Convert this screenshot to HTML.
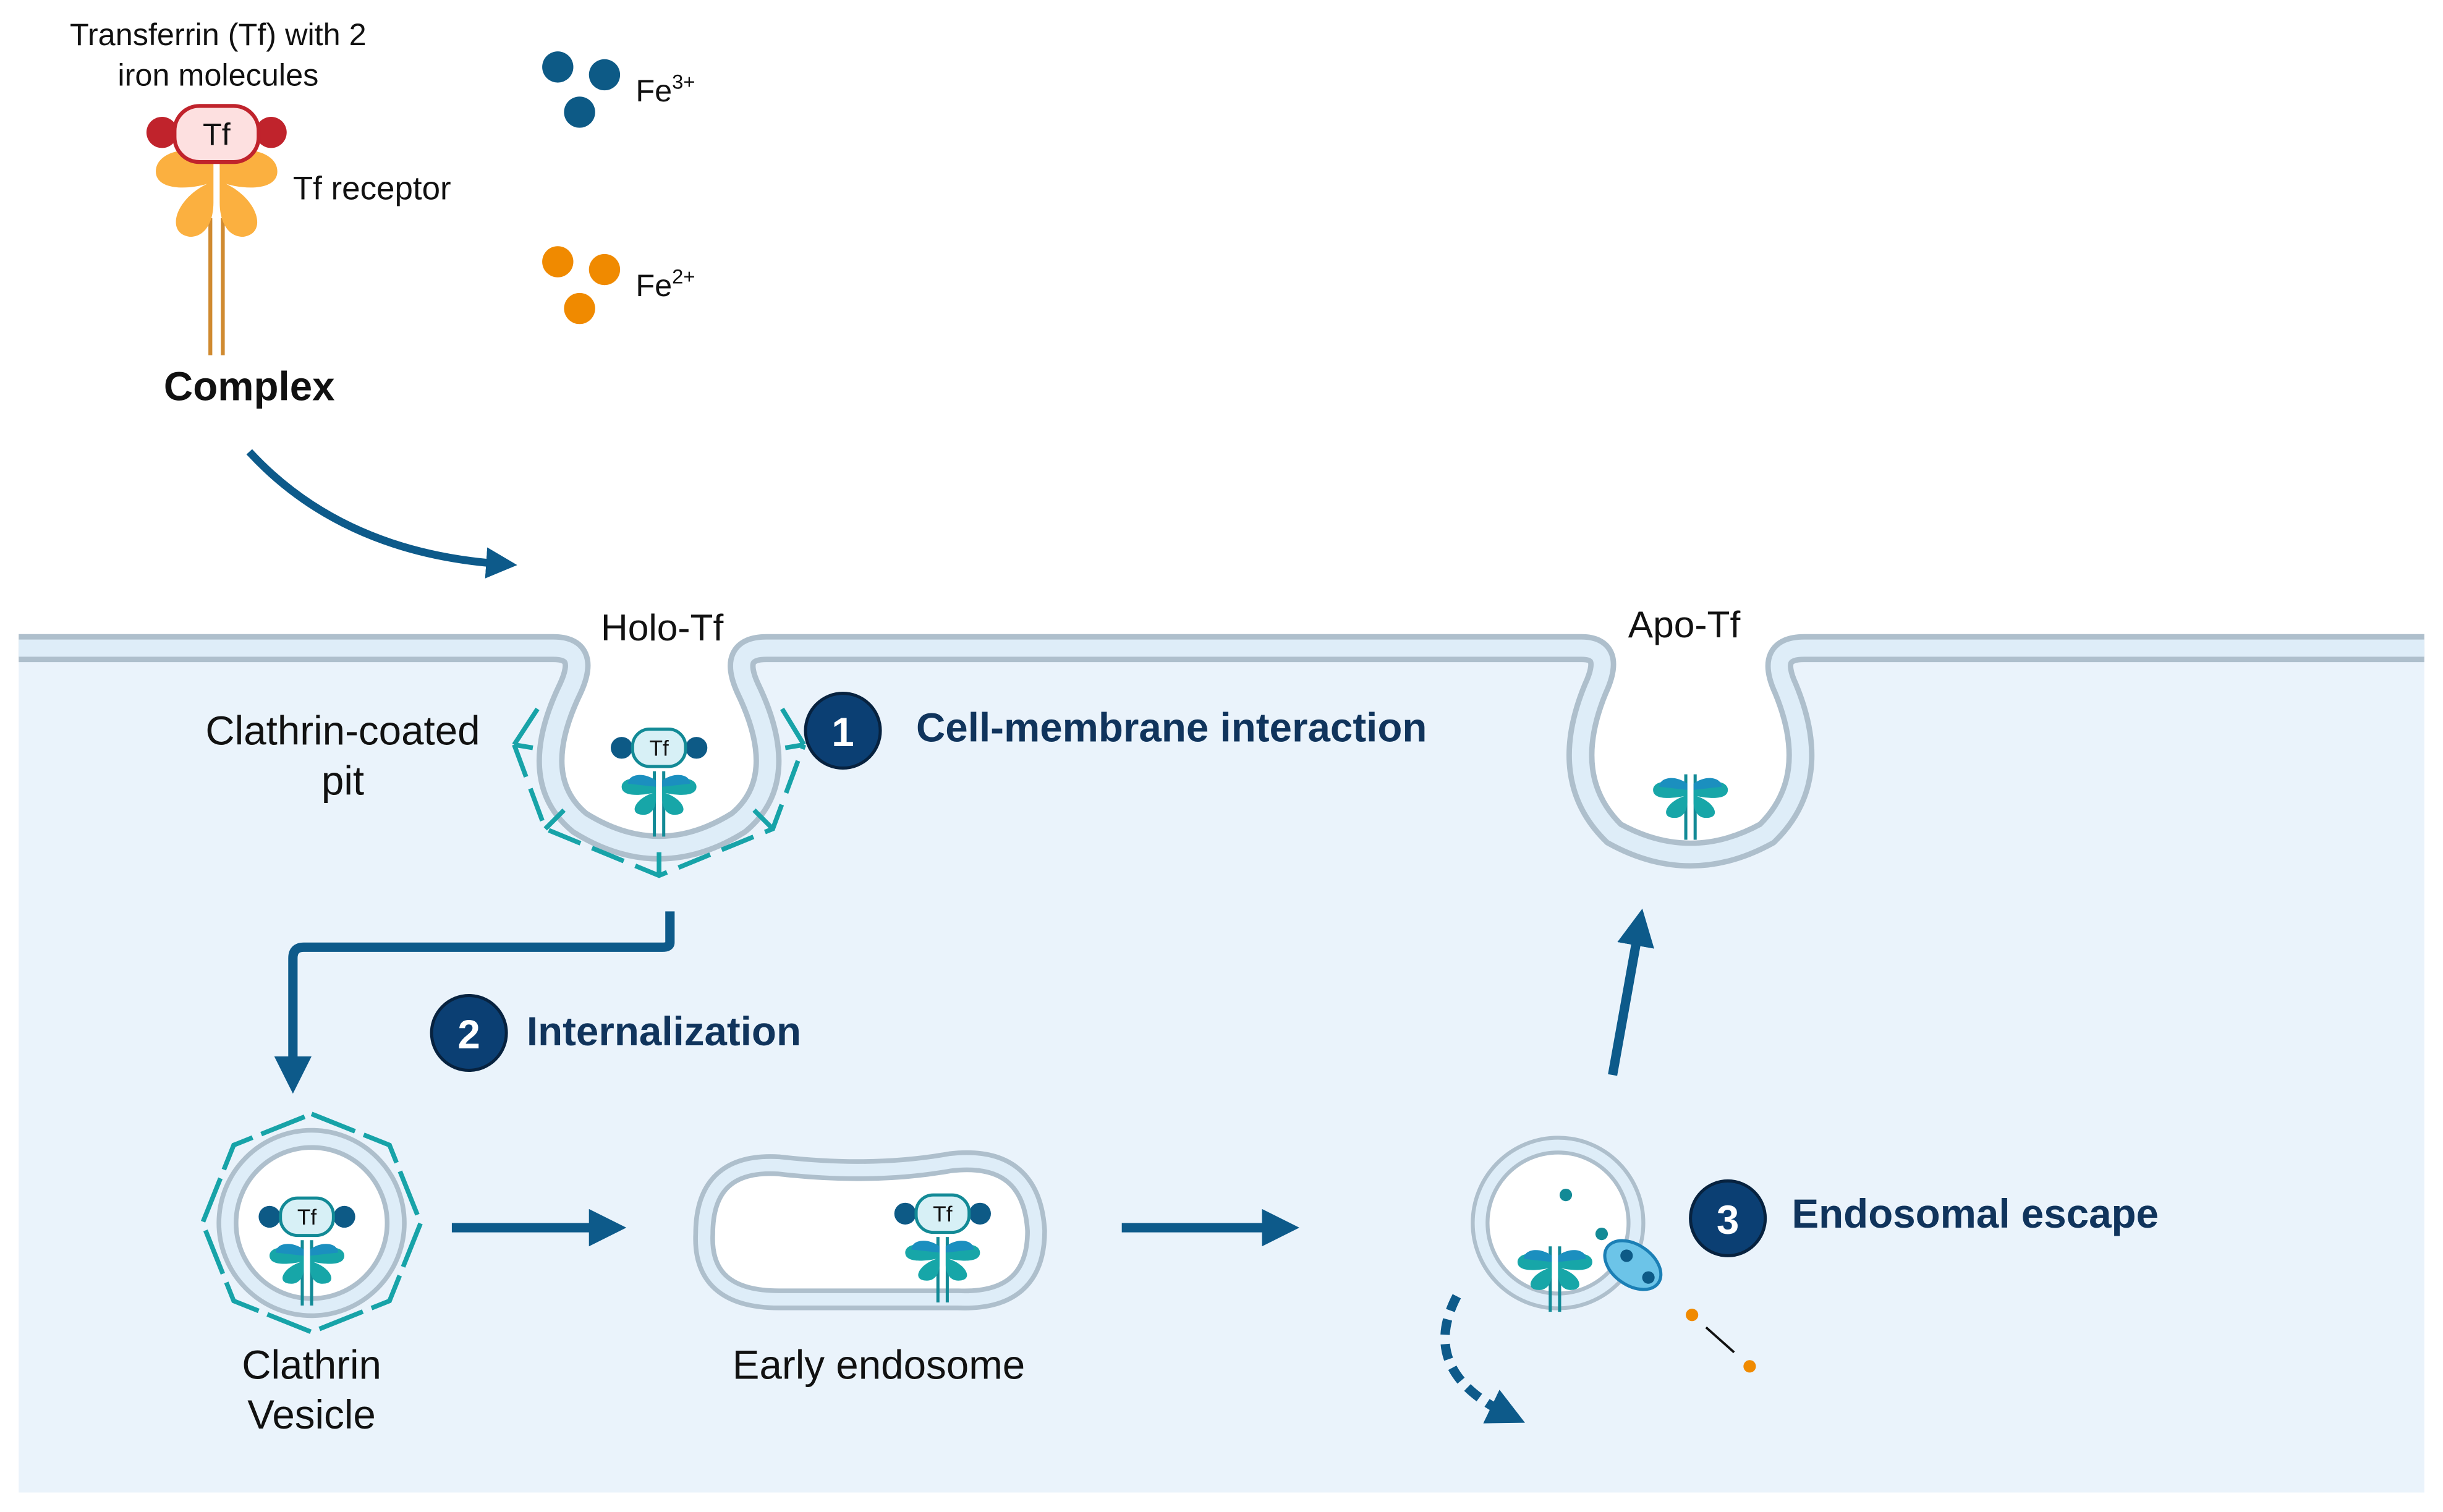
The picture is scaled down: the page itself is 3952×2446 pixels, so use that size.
<!DOCTYPE html>
<html><head><meta charset="utf-8"><style>
html,body{margin:0;padding:0;background:#fff;}
svg{display:block;}
text{font-family:"Liberation Sans",sans-serif;}
</style></head><body>
<svg width="3952" height="2446" viewBox="0 0 1568 970.5" preserveAspectRatio="none" xmlns="http://www.w3.org/2000/svg">
<defs>
<marker id="ah" viewBox="0 0 10 10" refX="5" refY="5" markerWidth="4" markerHeight="4" orient="auto"><path d="M0,0 L10,5 L0,10 z" fill="#0d5a8a"/></marker>
<g id="rec">
 <line x1="-3" y1="0" x2="-3" y2="42" stroke="#128a96" stroke-width="2"/>
 <line x1="3" y1="0" x2="3" y2="42" stroke="#128a96" stroke-width="2"/>
 <path d="M-2,10 C-12,2 -24,4 -24,10 C-24,16 -14,16 -4,14 C-16,18 -20,28 -10,28 C-4,28 -2,22 -2,18 z" fill="#17a6a8"/>
 <path d="M2,10 C12,2 24,4 24,10 C24,16 14,16 4,14 C16,18 20,28 10,28 C4,28 2,22 2,18 z" fill="#17a6a8"/>
 <path d="M-2,6 C-10,0 -20,2 -20,8 L-2,10 z M2,6 C10,0 20,2 20,8 L2,10z" fill="#1b8fbf"/>
</g>
<g id="tf">
 <circle cx="-24" cy="0" r="7" fill="#0d5a86"/>
 <circle cx="24" cy="0" r="7" fill="#0d5a86"/>
 <rect x="-17" y="-12" width="34" height="24" rx="11" fill="#d7f0f6" stroke="#128a96" stroke-width="2"/>
 <text x="0" y="5" font-size="14" text-anchor="middle" fill="#111">Tf</text>
</g>
</defs>
<rect x="0" y="0" width="1568" height="970.5" fill="#fff"/>
<rect x="12" y="416" width="1544" height="542" fill="#eaf3fb"/>
<!-- membrane -->
<path d="M12,416 H355 Q378,416 366,442 Q338,500 372,528 Q423,560 474,528 Q508,500 480,442 Q468,416 492,416 H1015 Q1036,416 1024,442 Q1000,500 1036,535 Q1085,562 1134,535 Q1170,500 1146,442 Q1134,416 1158,416 H1556" fill="#fff" stroke="#aebfcc" stroke-width="18"/>
<path d="M12,416 H355 Q378,416 366,442 Q338,500 372,528 Q423,560 474,528 Q508,500 480,442 Q468,416 492,416 H1015 Q1036,416 1024,442 Q1000,500 1036,535 Q1085,562 1134,535 Q1170,500 1146,442 Q1134,416 1158,416 H1556" fill="none" stroke="#deedf8" stroke-width="11"/>
<!-- clathrin pit coat -->
<polyline points="330,478 350,532 423,562 496,532 516,478" fill="none" stroke="#17a3a8" stroke-width="3" stroke-dasharray="22,8"/>
<path d="M330,478 L345,455 M330,478 L342,480 M350,532 L362,520 M423,562 L423,547 M496,532 L484,520 M516,478 L504,480 M516,478 L502,455" stroke="#17a3a8" stroke-width="3"/>
<use href="#rec" x="423" y="495"/><use href="#tf" x="423" y="480"/>
<use href="#rec" x="1085" y="497"/>
<!-- labels -->
<text x="425" y="411" font-size="24" text-anchor="middle" fill="#111">Holo-Tf</text>
<text x="1081" y="409" font-size="24" text-anchor="middle" fill="#111">Apo-Tf</text>
<text x="220" y="478" font-size="26" text-anchor="middle" fill="#111">Clathrin-coated</text>
<text x="220" y="510" font-size="26" text-anchor="middle" fill="#111">pit</text>
<circle cx="541" cy="469" r="24" fill="#0b3f73" stroke="#07223f" stroke-width="2"/><text x="541" y="479" font-size="26" font-weight="bold" fill="#fff" text-anchor="middle">1</text>
<text x="588" y="476" font-size="26" font-weight="bold" fill="#10345c">Cell-membrane interaction</text>
<circle cx="301" cy="663" r="24" fill="#0b3f73" stroke="#07223f" stroke-width="2"/><text x="301" y="673" font-size="26" font-weight="bold" fill="#fff" text-anchor="middle">2</text>
<text x="338" y="671" font-size="26" font-weight="bold" fill="#10345c">Internalization</text>
<circle cx="1109" cy="782" r="24" fill="#0b3f73" stroke="#07223f" stroke-width="2"/><text x="1109" y="792" font-size="26" font-weight="bold" fill="#fff" text-anchor="middle">3</text>
<text x="1150" y="788" font-size="26" font-weight="bold" fill="#10345c">Endosomal escape</text>
<!-- arrows -->
<path d="M160,290 Q220,355 322,362" fill="none" stroke="#0d5a8a" stroke-width="5" marker-end="url(#ah)"/>
<path d="M430,585 V605 Q430,608 425,608 H195 Q188,608 188,615 V690" fill="none" stroke="#0d5a8a" stroke-width="6" marker-end="url(#ah)"/>
<line x1="290" y1="788" x2="390" y2="788" stroke="#0d5a8a" stroke-width="6" marker-end="url(#ah)"/>
<line x1="720" y1="788" x2="822" y2="788" stroke="#0d5a8a" stroke-width="6" marker-end="url(#ah)"/>
<line x1="1035" y1="690" x2="1052" y2="595" stroke="#0d5a8a" stroke-width="6" marker-end="url(#ah)"/>
<path d="M935,832 Q910,880 968,908" fill="none" stroke="#0d5a8a" stroke-width="6" stroke-dasharray="10,6" marker-end="url(#ah)"/>
<!-- clathrin vesicle -->
<polygon points="200,715 250,735 270,785 250,835 200,855 150,835 130,785 150,735" fill="none" stroke="#17a3a8" stroke-width="3" stroke-dasharray="30,6"/>
<circle cx="200" cy="785" r="54" fill="#fff" stroke="#aebfcc" stroke-width="14"/>
<circle cx="200" cy="785" r="54" fill="none" stroke="#deedf8" stroke-width="8"/>
<use href="#rec" x="197" y="796"/><use href="#tf" x="197" y="781"/>
<text x="200" y="885" font-size="26" text-anchor="middle" fill="#111">Clathrin</text>
<text x="200" y="917" font-size="26" text-anchor="middle" fill="#111">Vesicle</text>
<!-- early endosome -->
<path d="M500,748 Q560,755 610,746 Q662,740 665,790 Q665,836 615,834 L500,834 Q450,834 452,792 Q452,745 500,748 Z" fill="#fff" stroke="#aebfcc" stroke-width="14"/>
<path d="M500,748 Q560,755 610,746 Q662,740 665,790 Q665,836 615,834 L500,834 Q450,834 452,792 Q452,745 500,748 Z" fill="none" stroke="#deedf8" stroke-width="8"/>
<use href="#rec" x="605" y="794"/><use href="#tf" x="605" y="779"/>
<text x="564" y="885" font-size="26" text-anchor="middle" fill="#111">Early endosome</text>
<!-- escape endosome -->
<circle cx="1000" cy="785" r="50" fill="#fff" stroke="#aebfcc" stroke-width="12"/>
<circle cx="1000" cy="785" r="50" fill="none" stroke="#deedf8" stroke-width="7"/>
<use href="#rec" x="998" y="800"/>
<circle cx="1005" cy="767" r="4" fill="#128a96"/><circle cx="1028" cy="792" r="4" fill="#128a96"/>
<ellipse cx="1048" cy="812" rx="20" ry="13" transform="rotate(35 1048 812)" fill="#6cc4e8" stroke="#1b7fb5" stroke-width="2"/>
<circle cx="1044" cy="806" r="4" fill="#0d5a86"/><circle cx="1058" cy="820" r="4" fill="#0d5a86"/>
<circle cx="1086" cy="844" r="4" fill="#f08a00"/><circle cx="1123" cy="877" r="4" fill="#f08a00"/>
<line x1="1095" y1="852" x2="1113" y2="868" stroke="#111" stroke-width="1.5"/>
<!-- top legend -->
<text x="140" y="29" font-size="20" text-anchor="middle" fill="#111">Transferrin (Tf) with 2</text>
<text x="140" y="55" font-size="20" text-anchor="middle" fill="#111">iron molecules</text>
<line x1="135" y1="140" x2="135" y2="228" stroke="#d08a30" stroke-width="2.5"/>
<line x1="143" y1="140" x2="143" y2="228" stroke="#d08a30" stroke-width="2.5"/>
<path d="M137,100 C120,92 100,98 100,110 C100,122 120,122 133,118 C112,128 106,150 122,152 C132,152 137,142 137,130 z" fill="#fbb040"/>
<path d="M141,100 C158,92 178,98 178,110 C178,122 158,122 145,118 C166,128 172,150 156,152 C146,152 141,142 141,130 z" fill="#fbb040"/>
<circle cx="104" cy="85" r="10" fill="#c0232c"/><circle cx="174" cy="85" r="10" fill="#c0232c"/>
<rect x="112" y="68" width="54" height="36" rx="16" fill="#fde0e0" stroke="#c0232c" stroke-width="2.5"/>
<text x="139" y="93" font-size="20" text-anchor="middle" fill="#111">Tf</text>
<text x="188" y="128" font-size="21" fill="#111">Tf receptor</text>
<text x="160" y="257" font-size="26" font-weight="bold" text-anchor="middle" fill="#111">Complex</text>
<circle cx="358" cy="43" r="10" fill="#0d5a86"/><circle cx="388" cy="48" r="10" fill="#0d5a86"/><circle cx="372" cy="72" r="10" fill="#0d5a86"/>
<text x="408" y="65" font-size="20" fill="#111">Fe<tspan font-size="13" dy="-8">3+</tspan></text>
<circle cx="358" cy="168" r="10" fill="#f08a00"/><circle cx="388" cy="173" r="10" fill="#f08a00"/><circle cx="372" cy="198" r="10" fill="#f08a00"/>
<text x="408" y="190" font-size="20" fill="#111">Fe<tspan font-size="13" dy="-8">2+</tspan></text>
</svg>
</body></html>
